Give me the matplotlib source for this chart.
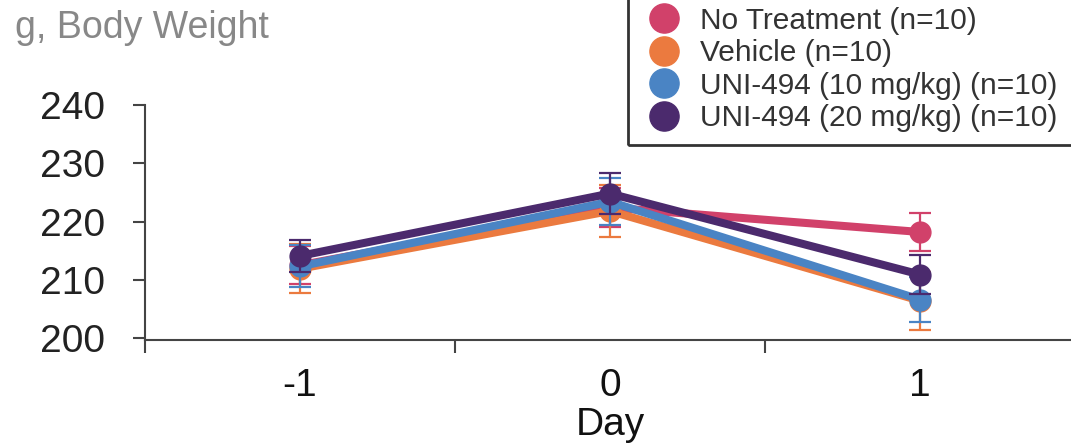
import matplotlib.pyplot as plt
from matplotlib.patches import Rectangle
from matplotlib.ticker import FixedLocator

plt.rcParams['font.family'] = ['Liberation Sans', 'DejaVu Sans']

# data
days = [-1, 0, 1]
groups = ['No Treatment (n=10)', 'Vehicle (n=10)',
          'UNI-494 (10 mg/kg) (n=10)', 'UNI-494 (20 mg/kg) (n=10)']
no_treat = [212.5, 222.4, 218.2]
no_treat_err = [3.3, 3.4, 3.3]
vehicle = [211.9, 221.8, 206.4]
vehicle_err = [4.2, 4.5, 5.0]
uni_10 = [212.3, 223.4, 206.6]
uni_10_err = [3.6, 4.0, 3.9]
uni_20 = [214.1, 224.8, 210.9]
uni_20_err = [2.7, 3.5, 3.4]

colors = ['#D1416A', '#EB7A3F', '#4A84C4', '#4B2A6D']
means = [no_treat, vehicle, uni_10, uni_20]
errs = [no_treat_err, vehicle_err, uni_10_err, uni_20_err]

fig = plt.figure(figsize=(10.71, 4.43), dpi=100)
ax = fig.add_axes([145 / 1071, 1 - 340 / 443, 930 / 1071, 235 / 443])

# draw order: vehicle, no treatment, 10 mg/kg, 20 mg/kg (last on top)
handles = {}
for i in [1, 0, 2, 3]:
    ax.errorbar(days, means[i], yerr=errs[i], color=colors[i], lw=5.8,
                elinewidth=1.6, capsize=8, capthick=1.6, marker='o',
                markersize=15, zorder=2 + i)
    handles[i] = ax.plot([], [], 'o', color=colors[i], markersize=21)[0]

ax.set_xlim(-1.5, 1.5)
ax.set_ylim(199.66, 240)
ax.set_yticks([200, 210, 220, 230, 240])
ax.set_xticks(days)
ax.set_xticklabels(['-1', '0', '1'])
ax.xaxis.set_minor_locator(FixedLocator([-1.5, -0.5, 0.5, 1.5]))

for s in ['top', 'right']:
    ax.spines[s].set_visible(False)
for s in ['left', 'bottom']:
    ax.spines[s].set_color('#444444')
    ax.spines[s].set_linewidth(1.5)

ax.tick_params(axis='y', length=9, width=1.5, color='#444444', pad=20,
               labelsize=28, labelcolor='#222222')
ax.tick_params(axis='x', which='major', length=0, pad=20, labelsize=28,
               labelcolor='#111111')
ax.tick_params(axis='x', which='minor', length=9, width=1.5, color='#444444')
ax.set_xlabel('Day', fontsize=28, labelpad=2, color='#111111')

fig.text(15 / 1071, 1 - 38 / 443, 'g, Body Weight', fontsize=27,
         color='#888888', va='baseline')

leg = fig.legend([handles[i] for i in range(4)], groups,
                 loc='upper left', bbox_to_anchor=(633 / 1071, 1.012),
                 fontsize=21.5, frameon=False,
                 handletextpad=0.55, labelspacing=0.15, borderpad=0.4,
                 handlelength=1.3, borderaxespad=0)
for t in leg.get_texts():
    t.set_color('#333333')

# legend box runs off the top and right edges in the reference
fig.patches.append(Rectangle((628 / 1071, 1 - 145 / 443), 470 / 1071,
                             160 / 443, transform=fig.transFigure,
                             fill=False, edgecolor='#333333', lw=2))

fig.savefig('out.png', dpi=100)
